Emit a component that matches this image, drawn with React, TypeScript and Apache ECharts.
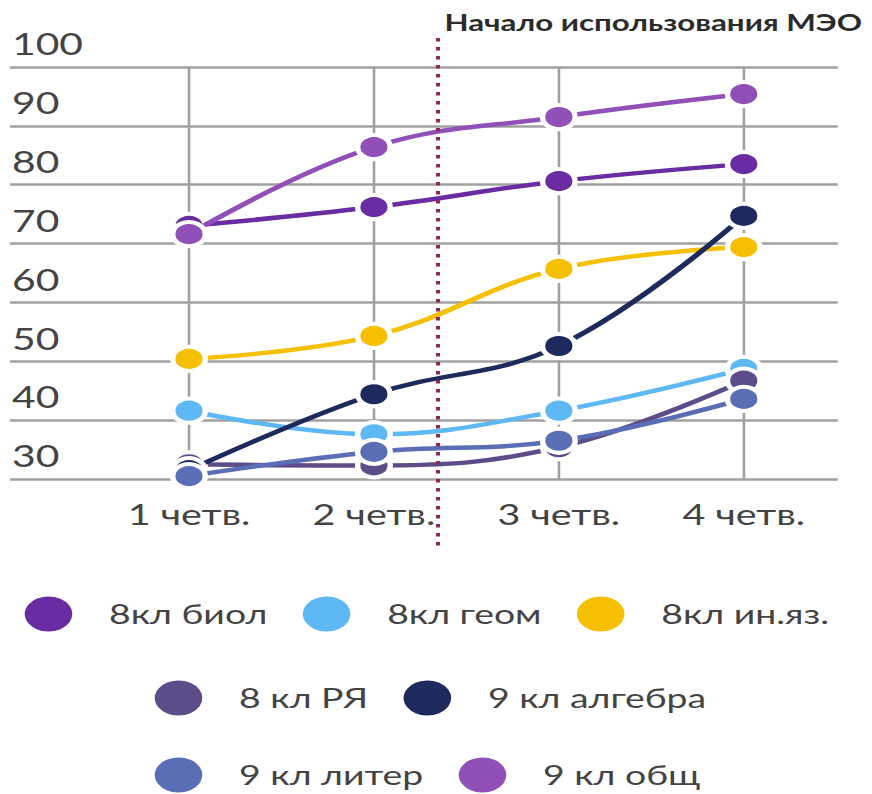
import React, { useEffect, useRef } from "react";
import * as echarts from "echarts";

const categories = ["1 четв.", "2 четв.", "3 четв.", "4 четв."];
const seriesNames = ["8кл биол", "8кл геом", "8кл ин.яз.", "8 кл РЯ", "9 кл алгебра", "9 кл литер", "9 кл общ"];
const biol = [73, 76.2, 80.6, 83.5];
const geom = [41.6, 37.6, 41.6, 48.7];
const inyaz = [50.4, 54.3, 65.7, 69.4];
const rya = [32.5, 32.3, 35.4, 46.7];
const algebra = [31.5, 44.4, 52.6, 74.7];
const liter = [30.5, 34.6, 36.5, 43.6];
const obsh = [71.6, 86.4, 91.5, 95.4];
const seriesValues = [biol, geom, inyaz, rya, algebra, liter, obsh];
const colors = ["#6a2ca3", "#5db8f3", "#f4c000", "#5c4d88", "#1f2a5c", "#5a6eb6", "#9150b8"];
const yMin = 30;
const yMax = 100;
const yStep = 10;
const annotation = "Начало использования МЭО";

const S = 1.36;
const W = 872 / S;
const H = 794;
const px = (x: number) => x / S;
const FONT = "Lato, 'Open Sans', sans-serif";
const TEXT_COLOR = "#444444";

export default function App() {
  const ref = useRef<HTMLDivElement>(null);
  useEffect(() => {
    if (!ref.current) return;
    const chart = echarts.init(ref.current, null, { renderer: "svg" });
    const gridTop = 67;
    const gridBottom = H - 479;
    const legendRow = (names: string[], left: number, cy: number) => ({
      data: names,
      left: px(left),
      top: cy - 18.5,
      orient: "horizontal",
      icon: "circle",
      itemWidth: 37,
      itemHeight: 37,
      itemGap: 24,
      padding: 0,
      selectedMode: false,
      textStyle: {
        fontFamily: FONT,
        fontWeight: 400,
        fontSize: 27.5,
        lineHeight: 37,
        color: TEXT_COLOR,
        padding: [0, 0, 0, 21],
      },
    });
    chart.setOption({
      animation: false,
      backgroundColor: "#ffffff",
      color: colors,
      grid: [
        { left: px(10), right: px(872 - 838), top: gridTop, bottom: gridBottom, containLabel: false },
        { left: px(189), right: px(872 - 744), top: gridTop, bottom: gridBottom, containLabel: false },
      ],
      xAxis: [
        { type: "value", gridIndex: 0, show: false, min: 0, max: 1 },
        {
          type: "category",
          gridIndex: 1,
          data: categories,
          boundaryGap: false,
          axisLine: { show: false },
          axisTick: { show: false },
          axisLabel: {
            fontFamily: FONT,
            fontWeight: 400,
            fontSize: 29,
            lineHeight: 30,
            color: TEXT_COLOR,
            margin: 20,
          },
          splitLine: { show: true, lineStyle: { color: "#a0a0a0", width: 1.9 } },
        },
      ],
      yAxis: [
        {
          type: "value",
          gridIndex: 0,
          min: yMin,
          max: yMax,
          interval: yStep,
          axisLine: { show: false },
          axisTick: { show: false },
          axisLabel: {
            inside: true,
            showMinLabel: true,
            showMaxLabel: true,
            margin: px(2),
            align: "left",
            verticalAlign: "bottom",
            fontFamily: FONT,
            fontWeight: 400,
            fontSize: 30,
            lineHeight: 46,
            color: TEXT_COLOR,
          },
          splitLine: { show: true, lineStyle: { color: "#a0a0a0", width: 2.5 } },
        },
        {
          type: "value",
          gridIndex: 1,
          min: yMin,
          max: yMax,
          interval: yStep,
          show: false,
          splitLine: { show: false },
        },
      ],
      legend: [
        legendRow(seriesNames.slice(0, 3), 22, 613),
        legendRow(seriesNames.slice(3, 5), 152, 697),
        legendRow(seriesNames.slice(5, 7), 152, 774),
      ],
      graphic: [
        {
          type: "line",
          shape: { x1: px(438), y1: 38, x2: px(438), y2: 548 },
          style: { stroke: "#8b2a55", lineWidth: 3, lineDash: [3.5, 5.5] },
          z: 100,
        },
        {
          type: "text",
          x: px(862),
          y: 22,
          style: {
            text: annotation,
            align: "right",
            verticalAlign: "middle",
            fontFamily: FONT,
            fontWeight: "bold",
            fontSize: 23,
            fill: "#2b2b2b",
          },
        },
      ],
      series: seriesNames.map((name, i) => ({
        name,
        type: "line",
        xAxisIndex: 1,
        yAxisIndex: 1,
        data: seriesValues[i],
        smooth: 0.4,
        symbol: "circle",
        symbolSize: 24,
        lineStyle: { width: 4.5, color: colors[i] },
        itemStyle: { color: colors[i], borderColor: "#ffffff", borderWidth: 4 },
        z: 2 + i,
      })),
    });
    return () => chart.dispose();
  }, []);
  return (
    <div
      ref={ref}
      style={{
        position: "fixed",
        left: 0,
        top: 0,
        width: W + "px",
        height: H + "px",
        transform: `scaleX(${S})`,
        transformOrigin: "0 0",
        background: "#fff",
      }}
    />
  );
}
